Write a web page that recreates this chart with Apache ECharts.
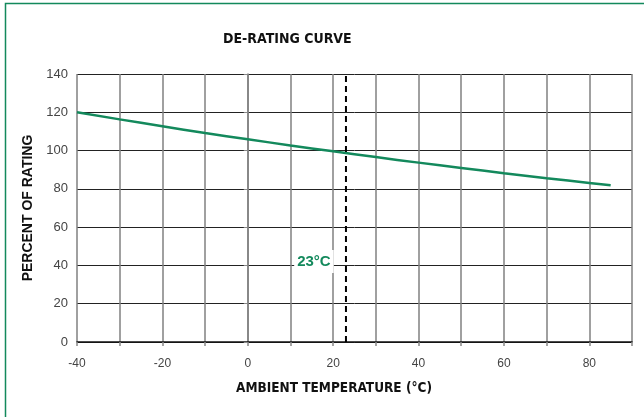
<!DOCTYPE html>
<html>
<head>
<meta charset="utf-8">
<script src="https://cdn.jsdelivr.net/npm/echarts@6/dist/echarts.min.js"></script>
<style>
html, body { margin: 0; padding: 0; background: #fff; }
#chart { width: 644px; height: 417px; }
</style>
</head>
<body>
<div id="chart"></div>
<script>
// temperature (°C) vs percent of rating
const temps = [-40, -30, -20, -10, 0, 10, 20, 30, 40, 50, 60, 70, 80, 85]
const rating = [120, 116.3, 112.7, 109.2, 105.9, 102.7, 99.6, 96.6, 93.7, 90.9, 88.2, 85.6, 83.1, 81.9]
const markerTemp = 23
const markerRange = [0, 140]
const markerLabel = "23°C"

const green = "#13895c"
const font = "Liberation Sans"
const narrow = "'DejaVu Sans Condensed', 'Liberation Sans'"

const chart = echarts.init(document.getElementById("chart"))
chart.setOption({
	animation: false,
	textStyle: { fontFamily: font },
	graphic: [
		{
			type: "rect",
			shape: { x: 5.5, y: 3.5, width: 700, height: 500 },
			style: { fill: "none", stroke: green, lineWidth: 1.5 },
		},
	],
	title: {
		text: "DE-RATING CURVE",
		left: 218,
		top: 27,
		textStyle: { fontSize: 14, fontWeight: "bold", color: "#111", fontFamily: narrow },
	},
	grid: { left: 77, right: 12, top: 74, bottom: 75 },
	xAxis: {
		type: "value",
		min: -40,
		max: 90,
		interval: 10,
		name: "AMBIENT TEMPERATURE (°C)",
		nameLocation: "middle",
		nameGap: 39,
		nameTextStyle: {
			fontSize: 13.5,
			fontWeight: "bold",
			color: "#111",
			fontFamily: narrow,
			padding: [0, 41, 0, 0],
		},
		axisLine: { lineStyle: { color: "#111", width: 1.5 } },
		axisTick: { show: true, length: 4, lineStyle: { color: "#888", width: 1.5 } },
		axisLabel: {
			fontSize: 12,
			color: "#444",
			margin: 16,
			formatter: (v) => (v % 20 === 0 && v < 90 ? String(v) : ""),
		},
		splitLine: { show: true, lineStyle: { color: "#808080", width: 1.5 } },
	},
	yAxis: {
		type: "value",
		min: 0,
		max: 140,
		interval: 20,
		name: "PERCENT OF RATING",
		nameLocation: "middle",
		nameGap: 41,
		nameTextStyle: { fontSize: 14, fontWeight: "bold", color: "#111" },
		axisLine: { show: true, lineStyle: { color: "#808080", width: 1.5 } },
		axisTick: { show: true, length: 4, lineStyle: { color: "#888" } },
		axisLabel: { fontSize: 13, color: "#444", margin: 9 },
		splitLine: { show: true, lineStyle: { color: "#222", width: 1 } },
	},
	series: [
		{
			type: "line",
			data: temps.map((t, i) => [t, rating[i]]),
			showSymbol: false,
			smooth: true,
			lineStyle: { color: green, width: 2.5 },
			z: 3,
		},
		{
			type: "line",
			data: markerRange.map((v) => [markerTemp, v]),
			showSymbol: false,
			lineStyle: { color: "#000", width: 2, type: [6, 4] },
			z: 4,
			markPoint: {
				symbol: "rect",
				symbolSize: 0,
				data: [{ coord: [15.5, 42] }],
				label: {
					show: true,
					formatter: markerLabel,
					color: green,
					fontSize: 15,
					fontWeight: "bold",
					backgroundColor: "#fff",
					padding: [4, 3],
				},
			},
		},
	],
})
</script>
</body>
</html>
